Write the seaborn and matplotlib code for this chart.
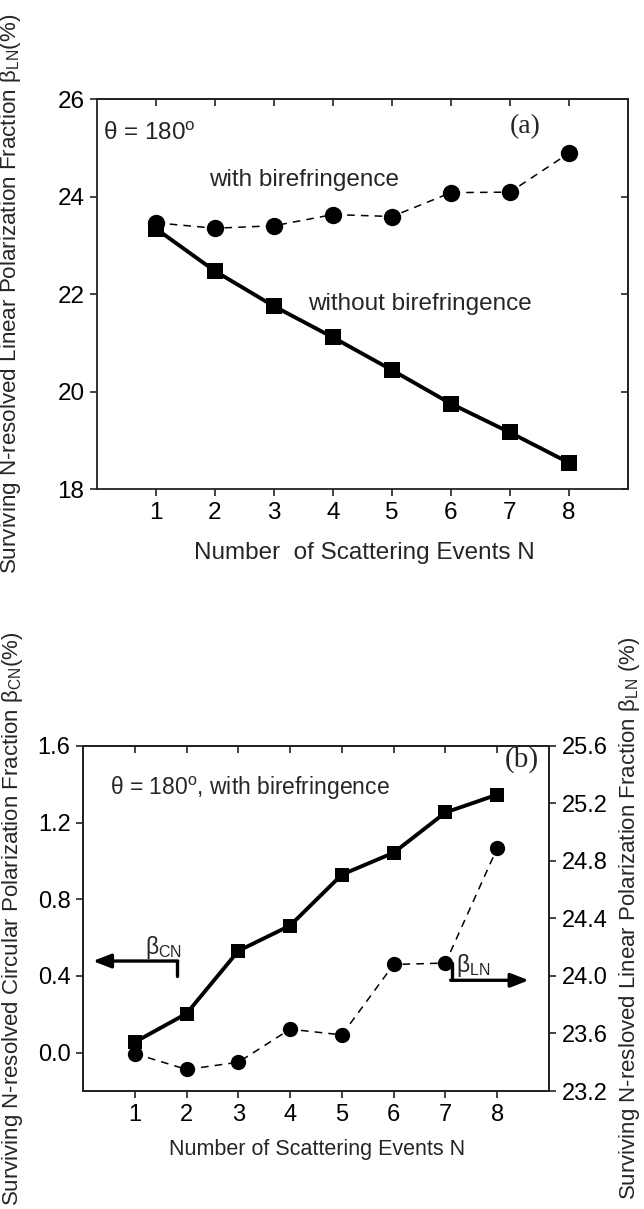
import numpy as np
import matplotlib
matplotlib.use("Agg")
import matplotlib.pyplot as plt
import seaborn as sns

# number of scattering events
n_events = [1, 2, 3, 4, 5, 6, 7, 8]

# (a) linear polarization fraction beta_LN (%)
beta_ln_biref = [23.46, 23.35, 23.40, 23.63, 23.59, 24.08, 24.09, 24.89]
beta_ln_no_biref = [23.34, 22.47, 21.75, 21.11, 20.44, 19.75, 19.16, 18.54]

# (b) circular polarization fraction beta_CN (%), with birefringence
beta_cn_biref = [0.055, 0.204, 0.531, 0.663, 0.929, 1.043, 1.253, 1.346]

x_ticks = [1, 2, 3, 4, 5, 6, 7, 8]
top_yticks = [18, 20, 22, 24, 26]
bot_yticks = [0.0, 0.4, 0.8, 1.2, 1.6]
bot_yticks_r = [23.2, 23.6, 24.0, 24.4, 24.8, 25.2, 25.6]

sns.set_theme(style="ticks")
plt.rcParams['font.family'] = ['Liberation Sans', 'DejaVu Sans']
plt.rcParams['axes.linewidth'] = 1.3
plt.rcParams['axes.edgecolor'] = '#222222'
plt.rcParams['xtick.color'] = '#222222'
plt.rcParams['ytick.color'] = '#222222'
plt.rcParams['xtick.labelcolor'] = 'black'
plt.rcParams['ytick.labelcolor'] = 'black'

FS = 17.5          # panel (a) text
FSB = 16.5         # panel (b) text

fig = plt.figure(figsize=(6.44, 12.09), dpi=100)
ax1 = fig.add_axes([0.1506, 0.5955, 0.8245, 0.3226])
ax2 = fig.add_axes([0.1289, 0.0976, 0.7236, 0.2854])


def style_ticks(ax, size, right_in=True):
    ax.tick_params(axis='both', direction='out', length=5, width=1.2,
                   labelsize=size, pad=4)
    top = ax.secondary_xaxis('top')
    top.set_xticks(x_ticks)
    top.tick_params(direction='in', length=5, width=1.2, labeltop=False)
    if right_in:
        right = ax.secondary_yaxis('right')
        right.set_yticks(ax.get_yticks())
        right.tick_params(direction='in', length=5, width=1.2, labelright=False)


# ---------------- (a) ----------------
sns.lineplot(x=n_events, y=beta_ln_no_biref, ax=ax1, color='black', lw=2.8,
             marker='s', markersize=12, markeredgewidth=0)
sns.lineplot(x=n_events, y=beta_ln_biref, ax=ax1, color='black', lw=1.1,
             dashes=(5, 4), marker='o', markersize=12.5, markeredgewidth=0)
ax1.set_xlim(0, 9)
ax1.set_ylim(18, 26)
ax1.set_xticks(x_ticks)
ax1.set_yticks(top_yticks)
style_ticks(ax1, FS)
ax1.set_xlabel('Number  of Scattering Events N', fontsize=FS)
ax1.set_ylabel('Surviving N-resolved Linear Polarization Fraction '
               r'β$_\mathregular{LN}$(%)', fontsize=16.1)
ax1.xaxis.set_label_coords(0.503, -0.135)
ax1.yaxis.set_label_coords(-0.14, 0.5)
ax1.text(0.11, 25.3, r'θ = 180$^\mathregular{o}$', fontsize=FS, va='center')
ax1.text(7.0, 25.43, '(a)', fontsize=20, va='center', family='Liberation Serif')
ax1.text(1.9, 24.34, 'with birefringence', fontsize=FS, va='center')
ax1.text(3.58, 21.8, 'without birefringence', fontsize=FS, va='center')

# ---------------- (b) ----------------
ax2r = ax2.twinx()
sns.lineplot(x=n_events, y=beta_cn_biref, ax=ax2, color='black', lw=2.8,
             marker='s', markersize=10, markeredgewidth=0)
sns.lineplot(x=n_events, y=beta_ln_biref, ax=ax2r, color='black', lw=1.1,
             dashes=(5, 4), marker='o', markersize=11, markeredgewidth=0)
ax2.set_xlim(0, 9)
ax2.set_ylim(-0.2, 1.6)
ax2.set_xticks(x_ticks)
ax2.set_yticks(bot_yticks)
ax2.set_yticklabels([f'{v:.1f}' for v in bot_yticks])
ax2r.set_ylim(23.2, 25.6)
ax2r.set_yticks(bot_yticks_r)
ax2r.set_yticklabels([f'{v:.1f}' for v in bot_yticks_r])
ax2r.tick_params(axis='y', direction='out', length=5, width=1.2,
                 labelsize=17, pad=4)
style_ticks(ax2, 17, right_in=False)
ax2.set_xlabel('Number of Scattering Events N', fontsize=15.5)
ax2.set_ylabel('Surviving N-resolved Circular Polarization Fraction '
               r'β$_\mathregular{CN}$(%)', fontsize=16)
ax2r.set_ylabel('Surviving N-resloved Linear Polarization Fraction '
                r'β$_\mathregular{LN}$ (%)', fontsize=16)
ax2.xaxis.set_label_coords(0.502, -0.14)
ax2.yaxis.set_label_coords(-0.125, 0.5)
ax2r.yaxis.set_label_coords(1.145, 0.5)
ax2.text(0.52, 1.38, r'θ = 180$^\mathregular{o}$, with birefringence',
         fontsize=FSB, va='center')
ax2.text(8.15, 1.53, '(b)', fontsize=21, va='center', family='Liberation Serif')

# beta_CN arrow (left axis)
ax2.plot([1.81, 1.81], [0.40, 0.478], color='black', lw=2.4)
ax2.annotate('', xy=(0.19, 0.478), xytext=(1.83, 0.478),
             arrowprops=dict(arrowstyle='-|>,head_length=0.9,head_width=0.35',
                             color='black', lw=2.4, shrinkA=0, shrinkB=0))
ax2.text(1.55, 0.55, r'β$_\mathregular{CN}$', fontsize=FSB, ha='center',
         va='center')

# beta_LN arrow (right axis)
ax2r.plot([7.12, 7.12], [23.97, 24.09], color='black', lw=2.4)
ax2r.annotate('', xy=(8.61, 23.97), xytext=(7.10, 23.97),
              arrowprops=dict(arrowstyle='-|>,head_length=0.9,head_width=0.35',
                              color='black', lw=2.4, shrinkA=0, shrinkB=0))
ax2r.text(7.53, 24.07, r'β$_\mathregular{LN}$', fontsize=FSB, ha='center',
          va='center')

fig.savefig('out.png', dpi=100)
